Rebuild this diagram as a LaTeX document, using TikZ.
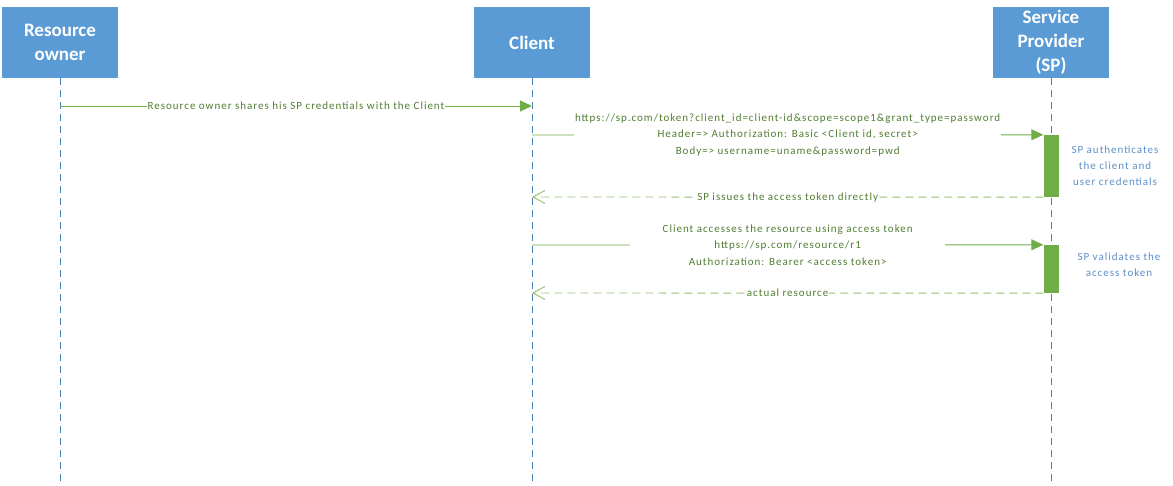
\documentclass[tikz,border=0pt]{standalone}
\usepackage{fontspec}
\setmainfont{Carlito}
\newfontfamily\msgfont[LetterSpace=9]{Carlito}
\usetikzlibrary{arrows.meta}
\definecolor{boxblue}{HTML}{5B9BD5}
\definecolor{lineblue}{HTML}{4A7EBB}
\definecolor{linegreen}{HTML}{70AD47}
\definecolor{textgreen}{HTML}{507E32}
\definecolor{noteblue}{HTML}{5B8FC8}
\tikzset{
    actor/.style={fill=boxblue, text=white, font=\fontsize{19}{24}\selectfont\bfseries,
        minimum width=116pt, minimum height=71pt, align=center, inner sep=0pt},
    lifeline/.style={draw=lineblue, line width=0.6pt, dash pattern=on 7pt off 5pt},
    msg/.style={draw=linegreen, line width=0.9pt, -{Triangle[length=12pt,width=11pt]}},
    reply/.style={draw=linegreen!75, line width=0.9pt, dash pattern=on 8pt off 5pt,
        -{Straight Barb[length=12pt,width=13pt]}},
    msglabel/.style={fill=white, text=textgreen, font=\msgfont\fontsize{11}{16.5}\selectfont,
        align=center, inner sep=1pt},
    note/.style={text=noteblue, font=\msgfont\fontsize{11}{16}\selectfont, align=center},
    activation/.style={fill=linegreen, minimum width=15pt, inner sep=0pt}
}
\begin{document}
\begin{tikzpicture}[x=1pt, y=-1pt]
    \useasboundingbox (0,0) rectangle (1173,486);

    % Participants
    \node[actor] (owner) at (60,42.5) {Resource\\owner};
    \node[actor] (client) at (532,42.5) {Client};
    \node[actor] (sp) at (1051,42.5) {Service\\Provider\\(SP)};

    % Lifelines
    \coordinate (owner end) at (60,484);
    \coordinate (client end) at (532,484);
    \coordinate (sp end) at (1051,484);
    \draw[lifeline] (owner.south) -- (owner end);
    \draw[lifeline] (client.south) -- (client end);
    \draw[lifeline] (sp.south) -- (sp end);

    % Activations
    \node[activation, minimum height=62pt] (act1) at (1051,166) {};
    \node[activation, minimum height=48pt] (act2) at (1051,269) {};

    % Message levels
    \coordinate (y1) at (0,106);
    \coordinate (y2) at (0,135);
    \coordinate (y3) at (0,197);
    \coordinate (y4) at (0,245);
    \coordinate (y5) at (0,293);

    % Messages
    \draw[msg] (owner |- y1) -- (client |- y1)
        node[midway, msglabel] {Resource owner shares his SP credentials with the Client};
    \draw[msg] (client |- y2) -- (act1.north west)
        node[midway, msglabel] {https://sp.com/token?client\_id=client-id\&scope=scope1\&grant\_type=password\\
        Header=> Authorization: Basic <Client id, secret>\\
        Body=> username=uname\&password=pwd};
    \draw[reply] (act1.south west) -- (client |- y3)
        node[midway, msglabel] {SP issues the access token directly};
    \draw[msg] (client |- y4) -- (act2.north west)
        node[midway, msglabel, minimum width=315pt] {Client accesses the resource using access token\\
        https://sp.com/resource/r1\\
        Authorization: Bearer <access token>};
    \draw[reply] (act2.south west) -- (client |- y5)
        node[midway, msglabel] {actual resource};

    % Notes
    \node[note] (auth note) at (1115,165.5) {SP authenticates\\the client and\\user credentials};
    \node[note] (check note) at (1119,264.5) {SP validates the\\access token};
\end{tikzpicture}
\end{document}
